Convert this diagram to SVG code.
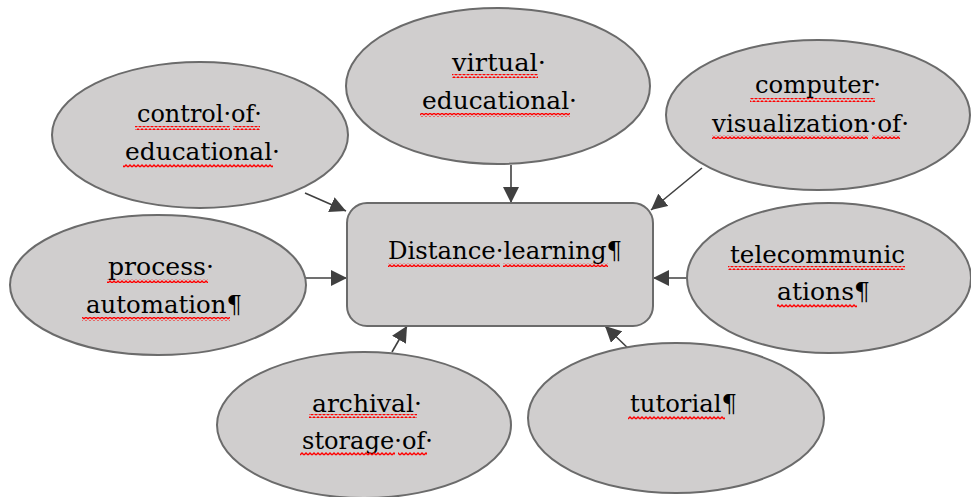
<svg xmlns="http://www.w3.org/2000/svg" width="971" height="497" viewBox="0 0 971 497">
<style>
.node{fill:#d0cece;stroke:#6b6b6b;stroke-width:2}
.t{font-family:'DejaVu Serif','Liberation Serif',serif;font-size:25px;fill:#000}
.w{fill:url(#wavy)}
.c{stroke:#404040;stroke-width:1.6;fill:none;marker-end:url(#ah)}
</style>
<defs>
<pattern id="wavy" patternUnits="userSpaceOnUse" width="4" height="4">
<path d="M0,3 L2,1 L4,3" fill="none" stroke="#ff0000" stroke-width="1.4"/>
</pattern>
<marker id="ah" markerWidth="16" markerHeight="16" refX="16" refY="8" orient="auto" markerUnits="userSpaceOnUse">
<path d="M0,0 L16,8 L0,16 z" fill="#404040"/>
</marker>
</defs>
<g id="connectors">
<path class="c" d="M511,165 L511,203"/>
<path class="c" d="M305,193 L346,211"/>
<path class="c" d="M702,168 L651,210"/>
<path class="c" d="M306,278 L347,278"/>
<path class="c" d="M687,278 L653,278"/>
<path class="c" d="M392,352 L407,326"/>
<path class="c" d="M633,353 L605,326"/>
</g>
<g id="n-virtual">
<ellipse class="node" cx="498" cy="86" rx="152" ry="78"/>
<text class="t" x="452" y="71" textLength="94" lengthAdjust="spacingAndGlyphs">virtual·</text>
<text class="t" x="422" y="109" textLength="155" lengthAdjust="spacingAndGlyphs">educational·</text>
<rect class="w" x="452" y="74" width="86" height="4"/>
<rect class="w" x="420" y="113" width="150" height="4"/>
</g>
<g id="n-computer">
<ellipse class="node" cx="818" cy="115" rx="152" ry="75"/>
<text class="t" x="755" y="93" textLength="126" lengthAdjust="spacingAndGlyphs">computer·</text>
<text class="t" x="712" y="132" textLength="197" lengthAdjust="spacingAndGlyphs">visualization·of·</text>
<rect class="w" x="750" y="98" width="125" height="4"/>
<rect class="w" x="712" y="135" width="156" height="4"/>
<rect class="w" x="872" y="135" width="28" height="4"/>
</g>
<g id="n-control">
<ellipse class="node" cx="200" cy="135" rx="148" ry="73"/>
<text class="t" x="137" y="122" textLength="125" lengthAdjust="spacingAndGlyphs">control·of·</text>
<text class="t" x="125" y="160" textLength="155" lengthAdjust="spacingAndGlyphs">educational·</text>
<rect class="w" x="135" y="126" width="95" height="4"/>
<rect class="w" x="233" y="126" width="27" height="4"/>
<rect class="w" x="123" y="164" width="150" height="4"/>
</g>
<g id="n-process">
<ellipse class="node" cx="158" cy="285" rx="148" ry="70"/>
<text class="t" x="108" y="275" textLength="106" lengthAdjust="spacingAndGlyphs">process·</text>
<text class="t" x="86" y="313" textLength="156" lengthAdjust="spacingAndGlyphs">automation¶</text>
<rect class="w" x="107" y="279" width="101" height="4"/>
<rect class="w" x="82" y="317" width="148" height="4"/>
</g>
<g id="n-center">
<rect class="node" x="347" y="203" width="306" height="123" rx="20" ry="20"/>
<text class="t" x="388" y="259" textLength="234" lengthAdjust="spacingAndGlyphs">Distance·learning¶</text>
<rect class="w" x="388" y="263" width="112" height="4"/>
<rect class="w" x="503" y="263" width="105" height="4"/>
</g>
<g id="n-telecom">
<ellipse class="node" cx="829" cy="278" rx="142" ry="75"/>
<text class="t" x="730" y="263" textLength="175" lengthAdjust="spacingAndGlyphs">telecommunic</text>
<text class="t" x="777" y="300" textLength="93" lengthAdjust="spacingAndGlyphs">ations¶</text>
<rect class="w" x="728" y="266" width="177" height="4"/>
<rect class="w" x="777" y="304" width="80" height="4"/>
</g>
<g id="n-archival">
<ellipse class="node" cx="364" cy="425" rx="147" ry="73"/>
<text class="t" x="312" y="412" textLength="110" lengthAdjust="spacingAndGlyphs">archival·</text>
<text class="t" x="302" y="449" textLength="131" lengthAdjust="spacingAndGlyphs">storage·of·</text>
<rect class="w" x="309" y="414" width="108" height="4"/>
<rect class="w" x="300" y="452" width="95" height="4"/>
<rect class="w" x="398" y="452" width="29" height="4"/>
</g>
<g id="n-tutorial">
<ellipse class="node" cx="676" cy="418" rx="148" ry="75"/>
<text class="t" x="630" y="412" textLength="107" lengthAdjust="spacingAndGlyphs">tutorial¶</text>
<rect class="w" x="628" y="416" width="97" height="4"/>
</g>
</svg>
